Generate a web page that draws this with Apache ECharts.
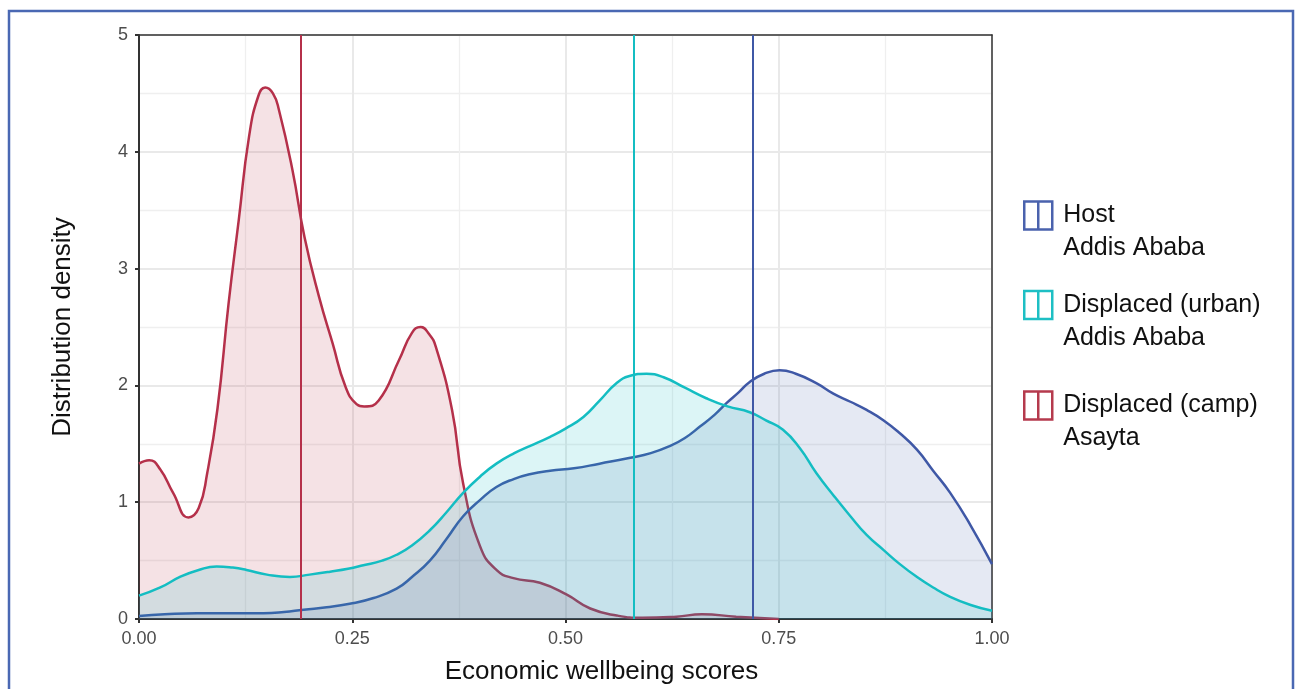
<!DOCTYPE html>
<html>
<head>
<meta charset="utf-8">
<script src="https://cdn.jsdelivr.net/npm/echarts@6/dist/echarts.min.js"></script>
<style>
  html, body { margin: 0; padding: 0; background: #ffffff; }
  #chart { width: 1300px; height: 689px; }
</style>
</head>
<body>
<div id="chart"></div>
<script>
// Kernel density of economic wellbeing scores, sampled as [score, density] pairs
const hostDensity = [
  [0.000, 0.025], [0.030, 0.04], [0.068, 0.05], [0.110, 0.05], [0.146, 0.05],
  [0.170, 0.06], [0.193, 0.08], [0.220, 0.10], [0.247, 0.13], [0.275, 0.18],
  [0.302, 0.26], [0.320, 0.36], [0.341, 0.50], [0.360, 0.68], [0.380, 0.88],
  [0.400, 1.02], [0.419, 1.13], [0.440, 1.20], [0.458, 1.24], [0.482, 1.27],
  [0.510, 1.29], [0.540, 1.33], [0.576, 1.38], [0.600, 1.42], [0.622, 1.48],
  [0.640, 1.55], [0.658, 1.65], [0.675, 1.75], [0.689, 1.85], [0.703, 1.94],
  [0.716, 2.03], [0.733, 2.10], [0.751, 2.13], [0.770, 2.10], [0.794, 2.02],
  [0.814, 1.93], [0.834, 1.86], [0.853, 1.79], [0.873, 1.70], [0.892, 1.59],
  [0.912, 1.45], [0.931, 1.27], [0.951, 1.08], [0.975, 0.80], [1.000, 0.47]
];

const urbanDensity = [
  [0.000, 0.20], [0.025, 0.27], [0.048, 0.36], [0.070, 0.42], [0.091, 0.45],
  [0.110, 0.44], [0.126, 0.42], [0.150, 0.38], [0.177, 0.36], [0.200, 0.38],
  [0.224, 0.405], [0.245, 0.43], [0.263, 0.46], [0.285, 0.50], [0.302, 0.55],
  [0.320, 0.63], [0.341, 0.76], [0.360, 0.91], [0.380, 1.08], [0.400, 1.22],
  [0.419, 1.33], [0.440, 1.42], [0.458, 1.48], [0.482, 1.56], [0.500, 1.63],
  [0.521, 1.73], [0.540, 1.87], [0.560, 2.02], [0.575, 2.08], [0.595, 2.10],
  [0.615, 2.07], [0.640, 1.98], [0.665, 1.89], [0.690, 1.82], [0.716, 1.77],
  [0.735, 1.70], [0.755, 1.62], [0.775, 1.46], [0.794, 1.25], [0.814, 1.06],
  [0.834, 0.88], [0.853, 0.72], [0.873, 0.59], [0.892, 0.47], [0.912, 0.36],
  [0.931, 0.27], [0.951, 0.19], [0.975, 0.12], [1.000, 0.07]
];

const campDensity = [
  [0.000, 1.33], [0.012, 1.36], [0.025, 1.28], [0.040, 1.08], [0.058, 0.87],
  [0.070, 0.95], [0.080, 1.25], [0.092, 1.80], [0.105, 2.70], [0.117, 3.42],
  [0.129, 4.13], [0.140, 4.48], [0.148, 4.55], [0.157, 4.50], [0.164, 4.36],
  [0.180, 3.84], [0.194, 3.27], [0.211, 2.76], [0.227, 2.36], [0.242, 1.99],
  [0.255, 1.84], [0.264, 1.82], [0.281, 1.87], [0.305, 2.22], [0.320, 2.45],
  [0.330, 2.50], [0.340, 2.44], [0.348, 2.33], [0.367, 1.79], [0.380, 1.16],
  [0.400, 0.62], [0.419, 0.42], [0.439, 0.35], [0.470, 0.31], [0.501, 0.21],
  [0.529, 0.09], [0.560, 0.03], [0.590, 0.01], [0.630, 0.02], [0.660, 0.04],
  [0.700, 0.02], [0.750, 0.00]
];

// Group means, drawn as vertical reference lines
const groupMeans = { host: 0.717, urban: 0.577, camp: 0.193 };

// Legend labels (two lines: group, location)
const groupNames = {
  host: 'Host\nAddis Ababa',
  urban: 'Displaced (urban)\nAddis Ababa',
  camp: 'Displaced (camp)\nAsayta'
};

const colors = {
  host:  { line: '#3f58a6', fill: 'rgba(63,88,166,0.19)',  key: '#4a62ad' },
  urban: { line: '#14bdc2', fill: 'rgba(20,189,194,0.21)', key: '#1dbfc4' },
  camp:  { line: '#b5304a', fill: 'rgba(181,48,74,0.2)',   key: '#b53a4d' }
};

const FONT = '"Liberation Sans", Arial, Helvetica, sans-serif';

function densitySeries(key, data, z) {
  return {
    name: groupNames[key],
    type: 'line',
    data: data,
    smooth: 0.5,
    showSymbol: false,
    symbol: 'none',
    z: z,
    lineStyle: { color: colors[key].line, width: 2.5 },
    itemStyle: { color: colors[key].line },
    areaStyle: { color: colors[key].fill, origin: 'start' },
    emphasis: { disabled: true },
    markLine: {
      silent: true,
      z: 10,
      symbol: 'none',
      label: { show: false },
      lineStyle: { color: colors[key].line, width: 2, type: 'solid' },
      data: [{ xAxis: groupMeans[key] }]
    }
  };
}

// One legend block per group; a leading blank line keeps the icon beside the first line
function legendFor(key, top) {
  return {
    data: [groupNames[key]],
    left: 1023,
    top: top,
    padding: 0,
    orient: 'vertical',
    selectedMode: false,
    icon: 'path://M0,0H28V28H0Z M14,0V28',
    itemWidth: 28,
    itemHeight: 28,
    itemStyle: { color: 'rgba(0,0,0,0)', borderColor: colors[key].key, borderWidth: 2.5 },
    formatter: name => '\n' + name,
    textStyle: {
      fontFamily: FONT,
      fontSize: 25,
      lineHeight: 33,
      color: '#111111',
      padding: [0, 0, 0, 6]
    }
  };
}

const plainAxisLine = { show: true, onZero: false, lineStyle: { color: '#333333', width: 1.5 } };

const chart = echarts.init(document.getElementById('chart'), null, { renderer: 'canvas' });

chart.setOption({
  animation: false,
  backgroundColor: '#ffffff',
  textStyle: { fontFamily: FONT },
  grid: {
    left: 139, right: 308, top: 35, bottom: 70,
    containLabel: false,
    outerBoundsMode: 'none',
    show: false
  },
  xAxis: [{
    type: 'value',
    position: 'bottom',
    min: 0, max: 1, interval: 0.25,
    name: 'Economic wellbeing scores',
    nameLocation: 'middle',
    nameGap: 40,
    nameTextStyle: { fontFamily: FONT, fontSize: 26, color: '#111111', padding: [0, 0, 0, 72] },
    axisLine: { show: true, onZero: false, lineStyle: { color: '#333333', width: 2 } },
    axisTick: { show: true, length: 4, inside: false, lineStyle: { color: '#333333', width: 2 } },
    axisLabel: { show: true, margin: 11, fontFamily: FONT, fontSize: 18, color: '#4d4d4d',
      formatter: v => v.toFixed(2) },
    splitLine: { show: true, lineStyle: { color: '#e9e9e9', width: 2 } },
    minorTick: { show: false, splitNumber: 2 },
    minorSplitLine: { show: true, lineStyle: { color: '#efefef', width: 1.3 } }
  }, {
    // closes the panel along the top edge
    type: 'value',
    position: 'top',
    min: 0, max: 1,
    axisLine: plainAxisLine,
    axisTick: { show: false },
    axisLabel: { show: false },
    splitLine: { show: false }
  }],
  yAxis: [{
    type: 'value',
    position: 'left',
    min: 0, max: 5, interval: 1,
    name: 'Distribution density',
    nameLocation: 'middle',
    nameGap: 63,
    nameRotate: 90,
    nameTextStyle: { fontFamily: FONT, fontSize: 26, color: '#111111' },
    axisLine: { show: true, onZero: false, lineStyle: { color: '#333333', width: 2 } },
    axisTick: { show: true, length: 4, inside: false, lineStyle: { color: '#333333', width: 2 } },
    axisLabel: { show: true, margin: 11, fontFamily: FONT, fontSize: 18, color: '#4d4d4d' },
    splitLine: { show: true, lineStyle: { color: '#e9e9e9', width: 2 } },
    minorTick: { show: false, splitNumber: 2 },
    minorSplitLine: { show: true, lineStyle: { color: '#efefef', width: 1.3 } }
  }, {
    // closes the panel along the right edge
    type: 'value',
    position: 'right',
    min: 0, max: 5,
    axisLine: plainAxisLine,
    axisTick: { show: false },
    axisLabel: { show: false },
    splitLine: { show: false }
  }],
  legend: [
    legendFor('host', 166),
    legendFor('urban', 255.5),
    legendFor('camp', 356)
  ],
  graphic: [{
    type: 'rect',
    silent: true,
    z: -1,
    shape: { x: 9, y: 11, width: 1284, height: 700 },
    style: { fill: 'none', stroke: '#4a68b3', lineWidth: 2.5 }
  }],
  series: [
    densitySeries('camp', campDensity, 2),
    densitySeries('host', hostDensity, 3),
    densitySeries('urban', urbanDensity, 4)
  ]
});
</script>
</body>
</html>
